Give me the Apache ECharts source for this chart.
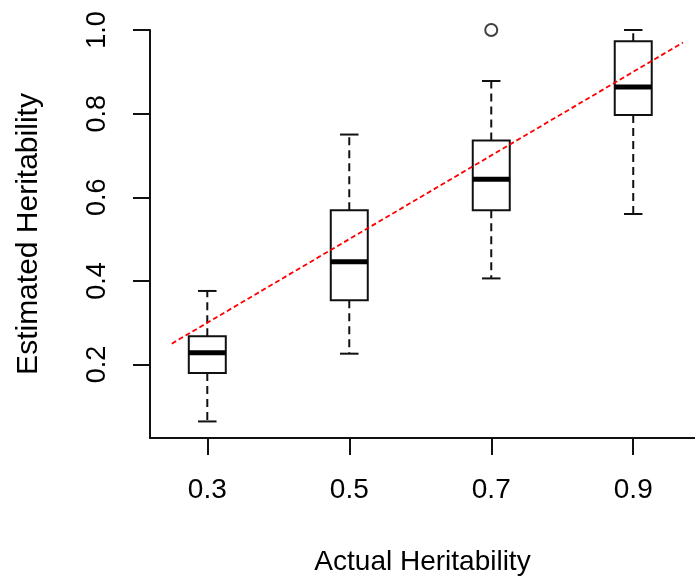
<!DOCTYPE html>
<html>
<head>
<meta charset="utf-8">
<title>Estimated vs Actual Heritability</title>
<script src="https://cdn.jsdelivr.net/npm/echarts@6/dist/echarts.min.js"></script>
<style>
    html, body { margin: 0; padding: 0; background: #fff; }
    #main { width: 695px; height: 581px; }
</style>
</head>
<body>
<div id="main"></div>
<script>
'use strict';

// actual heritability groups
var groups = [0.3, 0.5, 0.7, 0.9];
// five-number summaries
var whiskerLow  = [0.064, 0.226, 0.406, 0.560];
var quart1      = [0.180, 0.354, 0.569, 0.797];
var medians     = [0.228, 0.446, 0.643, 0.864];
var quart3      = [0.268, 0.569, 0.736, 0.973];
var whiskerHigh = [0.376, 0.750, 0.878, 1.000];
// outliers: [group, value]
var outliers = [[0.7, 1.0]];
// reference line y = x
var refLine = [[0.25, 0.25], [0.97, 0.97]];

var xTicks = [0.3, 0.5, 0.7, 0.9];
var yTicks = [0.2, 0.4, 0.6, 0.8, 1.0];

(function () {
    var FONT = "'Liberation Sans', Arial, sans-serif";
    var INK = '#111';
    var BOX_W = 37;

    var myChart = echarts.init(document.getElementById('main'));

    var boxData = groups.map(function (g, i) {
        return [g, whiskerLow[i], quart1[i], medians[i], quart3[i], whiskerHigh[i]];
    });

    // draw an R-style box: dashed whiskers, half-width staples, thick median
    function renderBox(params, api) {
        var x = api.value(0);
        var pLo = api.coord([x, api.value(1)]);
        var pQ1 = api.coord([x, api.value(2)]);
        var pMd = api.coord([x, api.value(3)]);
        var pQ3 = api.coord([x, api.value(4)]);
        var pHi = api.coord([x, api.value(5)]);
        var cx = pMd[0];
        var h = BOX_W / 2, s = BOX_W / 4;
        var solid = { stroke: INK, lineWidth: 2 };
        var dashed = { stroke: INK, lineWidth: 2, lineDash: [8, 5] };
        return {
            type: 'group',
            children: [
                { type: 'line', shape: { x1: cx, y1: pQ3[1], x2: cx, y2: pHi[1] }, style: dashed },
                { type: 'line', shape: { x1: cx, y1: pQ1[1], x2: cx, y2: pLo[1] }, style: dashed },
                { type: 'line', shape: { x1: cx - s, y1: pHi[1], x2: cx + s, y2: pHi[1] }, style: solid },
                { type: 'line', shape: { x1: cx - s, y1: pLo[1], x2: cx + s, y2: pLo[1] }, style: solid },
                { type: 'rect', shape: { x: cx - h, y: pQ3[1], width: BOX_W, height: pQ1[1] - pQ3[1] },
                  style: { fill: '#fff', stroke: INK, lineWidth: 2 } },
                { type: 'line', shape: { x1: cx - h, y1: pMd[1], x2: cx + h, y2: pMd[1] },
                  style: { stroke: '#000', lineWidth: 5 } }
            ]
        };
    }

    var option = {
        animation: false,
        grid: { left: 150, right: 0, top: 30, bottom: 143 },
        xAxis: {
            type: 'value',
            min: 0.2193,
            max: 0.987,
            name: 'Actual Heritability',
            nameLocation: 'middle',
            nameGap: 110,
            nameTextStyle: { fontFamily: FONT, fontSize: 28, color: '#000' },
            axisLine: { show: true, onZero: false, lineStyle: { color: INK, width: 2 } },
            axisTick: { show: true, length: 17, customValues: xTicks, lineStyle: { color: INK, width: 2 } },
            axisLabel: {
                customValues: xTicks,
                margin: 38,
                fontFamily: FONT, fontSize: 28, color: '#000',
                formatter: function (v) { return v.toFixed(1); }
            },
            splitLine: { show: false }
        },
        yAxis: {
            type: 'value',
            min: 0.0244,
            max: 1.0,
            name: 'Estimated Heritability',
            nameLocation: 'middle',
            nameGap: 106,
            nameTextStyle: { fontFamily: FONT, fontSize: 30, color: '#000' },
            axisLine: { show: true, onZero: false, lineStyle: { color: INK, width: 2 } },
            axisTick: { show: true, length: 17, customValues: yTicks, lineStyle: { color: INK, width: 2 } },
            axisLabel: {
                customValues: yTicks,
                rotate: 90,
                margin: 39,
                fontFamily: FONT, fontSize: 27, color: '#000',
                formatter: function (v) { return v.toFixed(1); }
            },
            splitLine: { show: false }
        },
        series: [
            {
                name: 'boxes',
                type: 'custom',
                renderItem: renderBox,
                encode: { x: 0, y: [1, 2, 3, 4, 5] },
                data: boxData,
                z: 2
            },
            {
                name: 'outliers',
                type: 'scatter',
                symbol: 'emptyCircle',
                symbolSize: 12,
                clip: false,
                itemStyle: { color: INK, borderColor: INK, borderWidth: 1.5 },
                data: outliers,
                z: 3
            },
            {
                name: 'y = x',
                type: 'line',
                showSymbol: false,
                lineStyle: { color: '#ff0000', width: 1.8, type: [5, 3] },
                data: refLine,
                z: 4
            }
        ]
    };

    myChart.setOption(option);
})();
</script>
</body>
</html>
